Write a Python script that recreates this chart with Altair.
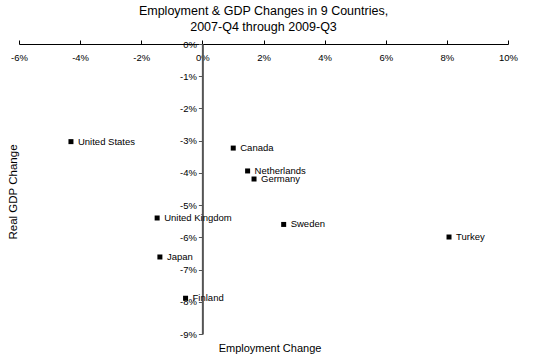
import altair as alt
import pandas as pd

countries = ["United States", "Canada", "Netherlands", "Germany", "United Kingdom",
             "Sweden", "Turkey", "Japan", "Finland"]
employment_change = [-4.30, 1.01, 1.48, 1.69, -1.48, 2.66, 8.07, -1.39, -0.55]
gdp_change = [-3.03, -3.23, -3.94, -4.19, -5.40, -5.60, -5.99, -6.61, -7.89]
x_ticks = [-6, -4, -2, 0, 2, 4, 6, 8, 10]
y_ticks = [0, -1, -2, -3, -4, -5, -6, -7, -8, -9]

df = pd.DataFrame({"country": countries, "emp": employment_change, "gdp": gdp_change})

FONT = "Liberation Sans"
W, H = 489, 290
zero_x = W * 6 / 16

x_axis = alt.Axis(orient="top", values=x_ticks, labelExpr="datum.value + '%'",
                  title="Employment Change", titleX=250.5, titleY=307,
                  titleAlign="center", titleBaseline="alphabetic",
                  titleAngle=0, titleFontSize=11, titleFontWeight="normal",
                  titleFont=FONT, titleColor="black",
                  tickSize=4, labelBaseline="top", labelPadding=-12,
                  labelFontSize=9.5, labelFont=FONT, labelColor="black",
                  domainColor="black", tickColor="black", domainWidth=1,
                  labelFlush=False, labelOverlap=False, labelBound=False, grid=False)
y_axis = alt.Axis(orient="left", offset=-zero_x, values=y_ticks,
                  labelExpr="datum.value + '%'",
                  title="Real GDP Change", titleX=-188.5, titleY=147.5,
                  titleAlign="center", titleBaseline="middle", titleAngle=-90,
                  titleFontSize=11.5, titleFontWeight="normal", titleFont=FONT,
                  titleColor="black",
                  tickSize=4, labelPadding=2, labelFontSize=9.5, labelFont=FONT,
                  labelColor="black", domainColor="#555555", tickColor="#555555",
                  domainWidth=2, labelFlush=False, labelOverlap=False, labelBound=False,
                  grid=False)

x_scale = alt.Scale(domain=[-6, 10], nice=False, zero=False)
y_scale = alt.Scale(domain=[-9, 0], nice=False, zero=False)

base = alt.Chart(df).encode(
    x=alt.X("emp:Q", scale=x_scale, axis=x_axis),
    y=alt.Y("gdp:Q", scale=y_scale, axis=y_axis),
)
points = base.mark_point(shape="square", filled=True, size=25, color="black", opacity=1)
labels = base.mark_text(align="left", baseline="middle", dx=7, font=FONT, fontSize=9.5,
                        color="black").encode(text="country:N")

chart = alt.layer(points, labels).properties(
    width=W, height=H,
    title=alt.TitleParams(["Employment & GDP Changes in 9 Countries,", "2007-Q4 through 2009-Q3"],
                          anchor="middle", font=FONT, fontSize=12.5, fontWeight="normal",
                          color="black", lineHeight=16, frame="group", offset=6),
    autosize=alt.AutoSizeParams(type="none"),
    padding={"left": 19, "top": 44, "right": 25, "bottom": 21},
).configure_view(stroke=None).configure_axis(labelOverlap=False)

chart.save("out.html", embed_options={"renderer": "svg", "actions": False})
